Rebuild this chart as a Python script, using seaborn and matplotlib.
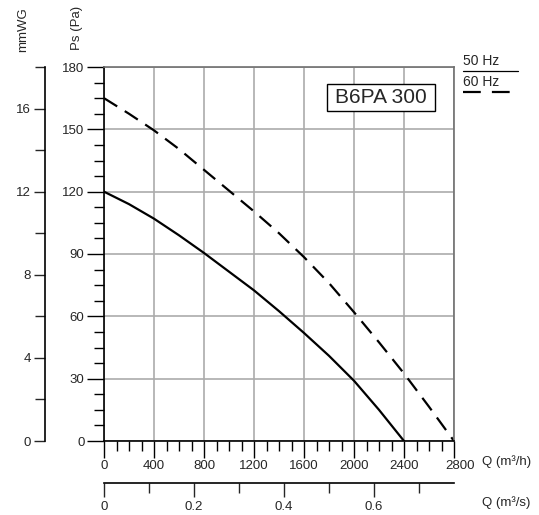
import matplotlib
matplotlib.use("Agg")
import matplotlib.pyplot as plt
from matplotlib.patches import Rectangle
from matplotlib.transforms import ScaledTranslation
from matplotlib.ticker import MultipleLocator, FixedLocator, NullFormatter
import pandas as pd
import seaborn as sns

# ---------------------------------------------------------------------------
# Data (flow in m3/h, static pressure in Pa)
# ---------------------------------------------------------------------------
q_50 = [0, 200, 400, 600, 800, 1000, 1200, 1400, 1600, 1800, 2000, 2200, 2400]
ps_50 = [120, 114, 107, 99, 90.5, 81.5, 72.5, 62.5, 52, 41, 29, 15, 0]

q_60 = [0, 200, 400, 600, 800, 1000, 1200, 1400, 1600, 1800, 2000, 2200, 2400, 2600, 2800]
ps_60 = [165, 157.5, 149.5, 140.5, 130.5, 120.5, 110.5, 100, 88.5, 76, 62, 47.5, 32.5, 16.5, 0]

q_ticks = [0, 400, 800, 1200, 1600, 2000, 2400, 2800]
ps_ticks = [0, 30, 60, 90, 120, 150, 180]
mm_ticks = [0, 4, 8, 12, 16]
qs_ticks = [0, 0.2, 0.4, 0.6]
qs_labels = ["0", "0.2", "0.4", "0.6"]

model_name = "B6PA 300"

df = pd.concat([
    pd.DataFrame({"Q": q_50, "Ps": ps_50, "freq": "50 Hz"}),
    pd.DataFrame({"Q": q_60, "Ps": ps_60, "freq": "60 Hz"}),
])

sns.set_style("white")
plt.rcParams["font.family"] = ["Liberation Sans", "DejaVu Sans"]
plt.rcParams["font.size"] = 9.5

W, H = 539, 515
fig = plt.figure(figsize=(W / 100, H / 100), dpi=100)

# pixel box of the main plot
X0, X1, Y0, Y1 = 104, 454, 67, 441
fx = lambda px: px / W
fy = lambda py: 1 - py / H

ax = fig.add_axes([fx(X0), fy(Y1), (X1 - X0) / W, (Y1 - Y0) / H])

grid_c = "#ababab"
sns.lineplot(data=df[df.freq == "50 Hz"], x="Q", y="Ps", ax=ax, color="black",
             lw=1.6, sort=False)
sns.lineplot(data=df[df.freq == "60 Hz"], x="Q", y="Ps", ax=ax, color="black",
             lw=1.6, sort=False, dashes=False, linestyle=(0, (7, 4)))

ax.set_xlim(0, 2800)
ax.set_ylim(0, 180)
ax.xaxis.set_major_locator(FixedLocator(q_ticks))
ax.xaxis.set_minor_locator(MultipleLocator(100))
ax.yaxis.set_major_locator(FixedLocator(ps_ticks))
ax.yaxis.set_minor_locator(MultipleLocator(7.5))
ax.grid(True, which="major", color=grid_c, lw=1.2)
ax.set_axisbelow(True)
ax.tick_params(axis="both", which="major", direction="out", length=12, width=1,
               color="black", labelsize=9.5, pad=2, bottom=True, left=True)
ax.tick_params(axis="both", which="minor", direction="out", length=7, width=1,
               color="black", bottom=True, left=True)
ax.set_xlabel("")
ax.set_ylabel("")
for s in ["left", "bottom"]:
    ax.spines[s].set_color("black")
    ax.spines[s].set_linewidth(1.2)
for s in ["top", "right"]:
    ax.spines[s].set_color("#707070")
    ax.spines[s].set_linewidth(1.2)

# the last flow label sits a few pixels right of its tick
fig.canvas.draw()
last_lbl = ax.get_xticklabels()[-1]
last_lbl.set_transform(last_lbl.get_transform()
                       + ScaledTranslation(0.06, 0, fig.dpi_scale_trans))

# model name box
ax.add_patch(Rectangle((0.637, 0.882), 0.309, 0.073, transform=ax.transAxes,
                       fc="white", ec="black", lw=1, zorder=5))
ax.text(0.791, 0.918, model_name, transform=ax.transAxes, ha="center", va="center",
        fontsize=15, zorder=6)

# ---------------------------------------------------------------------------
# mmWG axis on the far left
# ---------------------------------------------------------------------------
ax_mm = fig.add_axes([fx(45), fy(Y1), 0.0001, (Y1 - Y0) / H])
ax_mm.set_ylim(0, 18)
ax_mm.set_xticks([])
ax_mm.yaxis.set_major_locator(FixedLocator(mm_ticks))
ax_mm.yaxis.set_minor_locator(MultipleLocator(2))
ax_mm.tick_params(axis="y", which="major", direction="out", length=8, width=1,
                  labelsize=9.5, pad=2, left=True)
ax_mm.tick_params(axis="y", which="minor", direction="out", length=7, width=1, left=True)
for s in ["top", "right", "bottom"]:
    ax_mm.spines[s].set_visible(False)
ax_mm.spines["left"].set_color("black")
ax_mm.spines["left"].set_linewidth(1.2)
ax_mm.patch.set_visible(False)

# ---------------------------------------------------------------------------
# Q (m3/s) axis below
# ---------------------------------------------------------------------------
ax_qs = fig.add_axes([fx(X0), fy(483), (X1 - X0) / W, 0.0001])
ax_qs.set_xlim(0, 2800 / 3600)
ax_qs.set_yticks([])
ax_qs.xaxis.set_major_locator(FixedLocator(qs_ticks))
ax_qs.set_xticklabels(qs_labels)
ax_qs.xaxis.set_minor_locator(MultipleLocator(0.1))
ax_qs.xaxis.set_minor_formatter(NullFormatter())
ax_qs.tick_params(axis="x", which="major", direction="out", length=10, width=1,
                  labelsize=9.5, pad=3, bottom=True)
ax_qs.tick_params(axis="x", which="minor", direction="out", length=7, width=1, bottom=True)
for s in ["top", "right", "left"]:
    ax_qs.spines[s].set_visible(False)
ax_qs.spines["bottom"].set_color("black")
ax_qs.spines["bottom"].set_linewidth(1.2)
ax_qs.patch.set_visible(False)

# ---------------------------------------------------------------------------
# Axis titles and legend
# ---------------------------------------------------------------------------
fig.text(fx(23), fy(30), "mmWG", rotation=90, ha="center", va="center", fontsize=9.5)
fig.text(fx(77), fy(28), "Ps (Pa)", rotation=90, ha="center", va="center", fontsize=9.5)
fig.text(fx(482), fy(462), "Q (m³/h)", ha="left", va="center", fontsize=9.5)
fig.text(fx(482), fy(503), "Q (m³/s)", ha="left", va="center", fontsize=9.5)

fig.text(fx(463), fy(61), "50 Hz", ha="left", va="center", fontsize=10)
fig.add_artist(plt.Line2D([fx(463), fx(518)], [fy(71), fy(71)], color="black", lw=0.9))
fig.text(fx(463), fy(82), "60 Hz", ha="left", va="center", fontsize=10)
fig.add_artist(plt.Line2D([fx(463), fx(518)], [fy(92), fy(92)], color="black", lw=1.6,
                          linestyle=(0, (8, 5))))

fig.savefig("out.png", dpi=100)
